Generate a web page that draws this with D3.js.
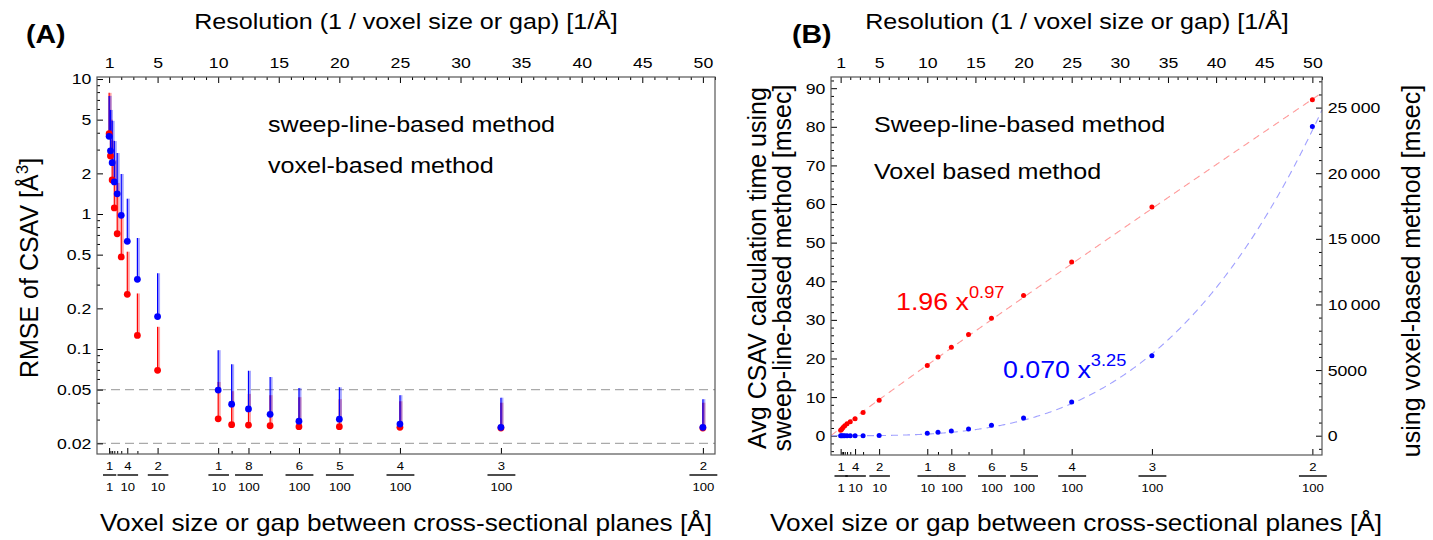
<!DOCTYPE html>
<html>
<head>
<meta charset="utf-8">
<script src="https://cdn.jsdelivr.net/npm/d3@7"></script>
<style>
  body { margin: 0; background: #fff; }
  svg { font-family: "Liberation Sans", Arial, sans-serif; }
</style>
</head>
<body>
<svg id="chart" width="1433" height="540"></svg>
<script>
const FONT = '"Liberation Sans", Arial, sans-serif';
const SX = 1.14; // horizontal text in the original is a little wide for its height

// voxel size / gap between planes [A]; resolution = 1 / size
const voxelSizes = [1, 0.9, 0.8, 0.7, 0.6, 0.5, 0.4, 0.3, 0.2, 0.1, 0.09, 0.08, 0.07, 0.06, 0.05, 0.04, 0.03, 0.02];

// (A) RMSE of CSAV, mean and upper error bar
const rmseSweep   = [3.93, 2.69, 1.79, 1.11, 0.714, 0.481, 0.254, 0.126, 0.0695, 0.0304, 0.0275, 0.0273, 0.027, 0.0266, 0.0266, 0.0263, 0.026, 0.026];
const rmseSweepHi = [7.9, 5.0, 3.5, 2.5, 1.7, 0.95, 0.526, 0.258, 0.146, 0.057, 0.0487, 0.0465, 0.0455, 0.044, 0.0425, 0.041, 0.04, 0.04];
const rmseVoxel   = [3.76, 2.94, 2.4, 1.73, 1.41, 0.977, 0.628, 0.328, 0.174, 0.0496, 0.039, 0.036, 0.0328, 0.0292, 0.0302, 0.0278, 0.0263, 0.0263];
const rmseVoxelHi = [7.5, 5.9, 4.9, 3.47, 2.83, 1.98, 1.30, 0.664, 0.364, 0.098, 0.077, 0.069, 0.062, 0.0515, 0.052, 0.0455, 0.0436, 0.0425];

// (B) avg calculation time [msec]
const timeSweep = [1.4, 1.7, 2.1, 2.6, 3.1, 3.6, 4.4, 6.0, 9.2, 18.2, 20.4, 22.9, 26.2, 30.4, 36.3, 45.0, 59.2, 87.0];
const timeVoxel = [0.1, 0.1, 0.2, 0.3, 0.4, 0.7, 1.5, 4, 13, 183, 259, 358, 510, 790, 1350, 2570, 6100, 23550];

// fitted power laws shown in (B)
const sweepFit = { a: 1.96, b: 0.97 };
const voxelFit = { a: 0.070, b: 3.25 };

// axis ticks
const topTicks = [1, 5, 10, 15, 20, 25, 30, 35, 40, 45, 50];
const labelledSizes = [1, 0.4, 0.2, 0.1, 0.08, 0.06, 0.05, 0.04, 0.03, 0.02];
const fracNum = ["1", "4", "2", "1", "8", "6", "5", "4", "3", "2"];
const fracDen = ["1", "10", "10", "10", "100", "100", "100", "100", "100", "100"];
const rmseTicks = [10, 5, 2, 1, 0.5, 0.2, 0.1, 0.05, 0.02];
const refLines = [0.05, 0.02];
const timeTicks = [0, 10, 20, 30, 40, 50, 60, 70, 80, 90];
const voxelTimeTicks = [0, 5000, 10000, 15000, 20000, 25000];

const RED = "#ff0000", BLUE = "#0000ff";
const svg = d3.select("#chart");

// panel frames
const A = { left: 97, right: 715, top: 77, bottom: 454 };
const B = { left: 831, right: 1322, top: 77, bottom: 455 };

const xA = d3.scaleLinear().domain([0, 51]).range([A.left, A.right]);
const xB = d3.scaleLinear().domain([0, 51]).range([B.left, B.right]);
const yA = d3.scaleLog().domain([0.01668, 10.35]).range([A.bottom, A.top]);
const yB = d3.scaleLinear().domain([-5, 92.9]).range([B.bottom, B.top]);
const yB2 = d3.scaleLinear().domain([-5 * 294.2, 92.9 * 294.2]).range([B.bottom, B.top]);

function styleAxis(g, size) {
    g.attr("font-family", FONT).attr("font-size", size);
    g.select(".domain").remove();
    g.selectAll(".tick text").attr("transform", `scale(${SX},1)`);
    return g;
}

function xAxes(x, P) {
    const minorTop = d3.range(1, 52).filter(v => !topTicks.includes(v));
    svg.append("g").attr("transform", `translate(0,${P.top})`)
        .call(d3.axisTop(x).tickValues(minorTop).tickSizeInner(-3).tickSizeOuter(0).tickFormat(""))
        .call(styleAxis, 15);
    svg.append("g").attr("transform", `translate(0,${P.top})`)
        .call(d3.axisTop(x).tickValues(topTicks).tickSizeInner(-6).tickSizeOuter(0).tickPadding(9))
        .call(styleAxis, 15.5);

    const minorBottom = voxelSizes.filter(s => !labelledSizes.includes(s)).map(s => 1 / s);
    svg.append("g").attr("transform", `translate(0,${P.bottom})`)
        .call(d3.axisBottom(x).tickValues(minorBottom).tickSizeInner(-3).tickSizeOuter(0).tickFormat(""))
        .call(styleAxis, 12);
    const gb = svg.append("g").attr("transform", `translate(0,${P.bottom})`)
        .call(d3.axisBottom(x).tickValues(labelledSizes.map(s => 1 / s)).tickSizeInner(-6).tickSizeOuter(0).tickFormat(""))
        .call(styleAxis, 11.5);
    gb.selectAll(".tick").each(function(d, i) {
        const t = d3.select(this);
        t.append("text").attr("transform", `translate(0,16) scale(${SX},1)`)
            .attr("fill", "#000").attr("text-anchor", "middle").text(fracNum[i]);
        const den = t.append("text").attr("transform", `translate(0,37) scale(${SX},1)`)
            .attr("fill", "#000").attr("text-anchor", "middle").text(fracDen[i]);
        const w = den.node().getComputedTextLength() * SX + 6;
        t.append("line").attr("x1", -w / 2).attr("x2", w / 2).attr("y1", 21).attr("y2", 21)
            .attr("stroke", "#000").attr("stroke-width", 1.4);
    });
}

function frame(P) {
    svg.append("rect").attr("x", P.left).attr("y", P.top)
        .attr("width", P.right - P.left).attr("height", P.bottom - P.top)
        .attr("fill", "none").attr("stroke", "#555").attr("stroke-width", 1.2);
}

function text(x, y, str, size, opts = {}) {
    return svg.append("text").attr("font-size", size)
        .attr("text-anchor", opts.anchor || "start")
        .attr("font-weight", opts.weight || null)
        .attr("fill", opts.fill || "#000")
        .attr("transform", opts.rotate ? `translate(${x},${y}) rotate(-90)` : `translate(${x},${y}) scale(${SX},1)`)
        .text(str);
}

// ---------------- panel A ----------------
svg.append("g").selectAll("line").data(refLines).join("line")
    .attr("x1", A.left).attr("x2", A.right)
    .attr("y1", d => yA(d)).attr("y2", d => yA(d))
    .attr("stroke", "#aaa").attr("stroke-width", 1.3).attr("stroke-dasharray", "9,5");

const minorLog = [];
[0.01, 0.1, 1, 10].forEach(p => d3.range(1, 10).forEach(k => {
    const v = k * p;
    if (v >= 0.01668 && v <= 10.35 && !rmseTicks.includes(+v.toPrecision(3))) minorLog.push(v);
}));
svg.append("g").attr("transform", `translate(${A.left},0)`)
    .call(d3.axisLeft(yA).tickValues(minorLog).tickSizeInner(-3).tickSizeOuter(0).tickFormat(""))
    .call(styleAxis, 15);
svg.append("g").attr("transform", `translate(${A.left},0)`)
    .call(d3.axisLeft(yA).tickValues(rmseTicks).tickSizeInner(-6).tickSizeOuter(0).tickPadding(5).tickFormat(d => String(d)))
    .call(styleAxis, 15.5);
xAxes(xA, A);

const seriesA = [
    { mean: rmseSweep, hi: rmseSweepHi, color: RED, light: "rgba(255,0,0,0.35)" },
    { mean: rmseVoxel, hi: rmseVoxelHi, color: BLUE, light: "rgba(0,0,255,0.35)" }
];
seriesA.forEach(s => {
    const g = svg.append("g");
    g.selectAll("line.light").data(voxelSizes).join("line").attr("class", "light")
        .attr("x1", (d) => xA(1 / d) + 1.3).attr("x2", (d) => xA(1 / d) + 1.3)
        .attr("y1", (d, i) => yA(s.mean[i])).attr("y2", (d, i) => yA(s.hi[i]))
        .attr("stroke", s.light).attr("stroke-width", 2.4);
    g.selectAll("line.bar").data(voxelSizes).join("line").attr("class", "bar")
        .attr("x1", (d) => xA(1 / d)).attr("x2", (d) => xA(1 / d))
        .attr("y1", (d, i) => yA(s.mean[i])).attr("y2", (d, i) => yA(s.hi[i]))
        .attr("stroke", s.color).attr("stroke-width", 1.2);
});
seriesA.forEach(s => {
    svg.append("g").selectAll("circle").data(voxelSizes).join("circle")
        .attr("cx", d => xA(1 / d)).attr("cy", (d, i) => yA(s.mean[i]))
        .attr("r", 3.4).attr("fill", s.color);
});
frame(A);

text(268, 132, "sweep-line-based method", 22);
text(268, 173, "voxel-based method", 22);
text(26, 43, "(A)", 25, { weight: "bold" });
text(406, 29, "Resolution (1 / voxel size or gap) [1/Å]", 22, { anchor: "middle" });
text(406, 531, "Voxel size or gap between cross-sectional planes [Å]", 23, { anchor: "middle" });
const ya = text(38, 268, "RMSE of CSAV [Å", 25, { anchor: "middle", rotate: true });
ya.append("tspan").attr("dy", -10).attr("font-size", 17).text("3");
ya.append("tspan").attr("dy", 10).text("]");

// ---------------- panel B ----------------
const minorTime = d3.range(-4, 93, 2).filter(v => !timeTicks.includes(v));
svg.append("g").attr("transform", `translate(${B.left},0)`)
    .call(d3.axisLeft(yB).tickValues(minorTime).tickSizeInner(-3).tickSizeOuter(0).tickFormat(""))
    .call(styleAxis, 15);
svg.append("g").attr("transform", `translate(${B.left},0)`)
    .call(d3.axisLeft(yB).tickValues(timeTicks).tickSizeInner(-6).tickSizeOuter(0).tickPadding(5))
    .call(styleAxis, 15.5);
const minorVox = d3.range(-1000, 27001, 1000).filter(v => !voxelTimeTicks.includes(v));
svg.append("g").attr("transform", `translate(${B.right},0)`)
    .call(d3.axisRight(yB2).tickValues(minorVox).tickSizeInner(-3).tickSizeOuter(0).tickFormat(""))
    .call(styleAxis, 15);
svg.append("g").attr("transform", `translate(${B.right},0)`)
    .call(d3.axisRight(yB2).tickValues(voxelTimeTicks).tickSizeInner(-6).tickSizeOuter(0).tickPadding(5)
        .tickFormat(d => d >= 10000 ? d3.format(",")(d).replace(",", "\u2009") : String(d)))
    .call(styleAxis, 15.5);
xAxes(xB, B);

const fitR = d3.range(0, 51.001, 0.1);
svg.append("path").datum(fitR)
    .attr("d", d3.line().x(r => xB(r)).y(r => yB(sweepFit.a * Math.pow(r, sweepFit.b))))
    .attr("fill", "none").attr("stroke", "#ff9a9a").attr("stroke-width", 1.1).attr("stroke-dasharray", "7,5");
svg.append("path").datum(fitR)
    .attr("d", d3.line().x(r => xB(r)).y(r => yB2(voxelFit.a * Math.pow(r, voxelFit.b))))
    .attr("fill", "none").attr("stroke", "#a0a0ff").attr("stroke-width", 1.1).attr("stroke-dasharray", "7,5");

svg.append("g").selectAll("circle").data(voxelSizes).join("circle")
    .attr("cx", d => xB(1 / d)).attr("cy", (d, i) => yB(timeSweep[i]))
    .attr("r", 2.5).attr("fill", RED);
svg.append("g").selectAll("circle").data(voxelSizes).join("circle")
    .attr("cx", d => xB(1 / d)).attr("cy", (d, i) => yB2(timeVoxel[i]))
    .attr("r", 2.5).attr("fill", BLUE);
frame(B);

text(874, 132, "Sweep-line-based method", 22);
text(874, 179, "Voxel based method", 22);
const f1 = text(896, 310, "1.96 x", 23.5, { fill: RED });
f1.append("tspan").attr("dy", -12).attr("font-size", 16).text("0.97");
const f2 = text(1003, 378, "0.070 x", 23.5, { fill: BLUE });
f2.append("tspan").attr("dy", -12).attr("font-size", 16).text("3.25");

text(792, 43, "(B)", 25, { weight: "bold" });
text(1077, 29, "Resolution (1 / voxel size or gap) [1/Å]", 22, { anchor: "middle" });
text(1076, 531, "Voxel size or gap between cross-sectional planes [Å]", 23, { anchor: "middle" });
text(766, 268, "Avg CSAV calculation time using", 25, { anchor: "middle", rotate: true });
text(791, 268, "sweep-line-based method [msec]", 25, { anchor: "middle", rotate: true });
text(1420, 271, "using voxel-based method [msec]", 25, { anchor: "middle", rotate: true });
</script>
</body>
</html>
